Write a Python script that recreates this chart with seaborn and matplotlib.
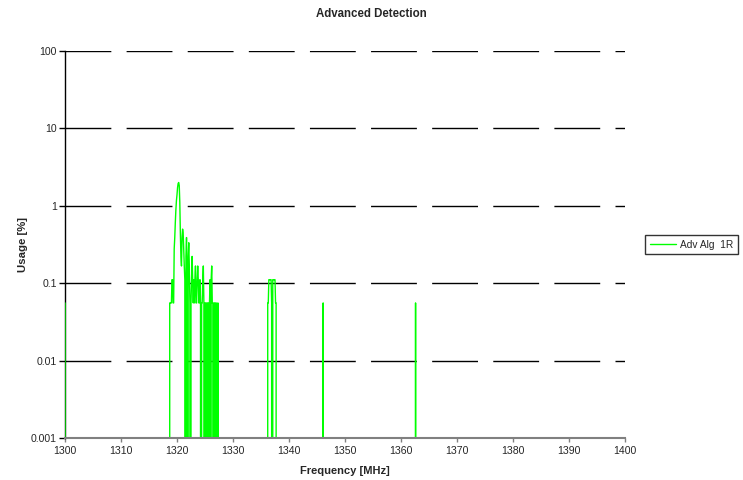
import numpy as np
import pandas as pd
import matplotlib
matplotlib.use("Agg")
import matplotlib.pyplot as plt
import seaborn as sns
from matplotlib.ticker import FixedLocator, FixedFormatter, NullLocator

# Usage per frequency bin (%), zero where nothing was detected
freq_mhz = [
    1300.0, 1300.1,
    1318.6, 1318.7, 1318.8, 1318.9, 1319.0, 1319.1, 1319.2, 1319.3, 1319.4,
    1319.5, 1319.6, 1319.7, 1319.8, 1319.9, 1320.0, 1320.1, 1320.2, 1320.3,
    1320.4, 1320.5, 1320.6, 1320.7, 1320.8, 1320.9, 1321.0, 1321.1, 1321.2,
    1321.3, 1321.4, 1321.5, 1321.6, 1321.7, 1321.8, 1321.9, 1322.0, 1322.1,
    1322.2, 1322.3, 1322.4, 1322.5, 1322.6, 1322.7, 1322.8, 1322.9, 1323.0,
    1323.1, 1323.2, 1323.3, 1323.4, 1323.5, 1323.6, 1323.7, 1323.8, 1323.9,
    1324.0, 1324.1, 1324.2, 1324.3, 1324.4, 1324.5, 1324.6, 1324.7, 1324.8,
    1324.9, 1325.0, 1325.1, 1325.2, 1325.3, 1325.4, 1325.5, 1325.6, 1325.7,
    1325.8, 1325.9, 1326.0, 1326.1, 1326.2, 1326.3, 1326.4, 1326.5, 1326.6,
    1326.7, 1326.8, 1326.9, 1327.0, 1327.1, 1327.2, 1327.3, 1327.4,
    1336.1, 1336.2, 1336.3, 1336.4, 1336.5, 1336.6, 1336.7, 1336.8, 1336.9,
    1337.0, 1337.1, 1337.2, 1337.3, 1337.4, 1337.5, 1337.6, 1337.7, 1337.8,
    1346.0, 1346.1, 1346.2,
    1362.5, 1362.6, 1362.7,
    1400.0,
]
usage_pct = [
    0.0556, 0,
    0, 0.0556, 0.0556, 0.0556, 0.0556, 0.111, 0.111, 0.0556, 0.0556,
    0.278, 0.389, 0.611, 0.889, 1.17, 1.39, 1.72, 1.94, 2.0,
    1.83, 1.11, 0.444, 0.222, 0.167, 0.389, 0.5, 0.444, 0.278,
    0.167, 0.111, 0, 0.222, 0.389, 0.111, 0, 0.222, 0.333,
    0.167, 0.0556, 0, 0.0556, 0.111, 0.222, 0.111, 0.0556, 0.111,
    0.0556, 0.111, 0.167, 0.0556, 0.0556, 0.111, 0.167, 0.111, 0.0556,
    0.0556, 0.111, 0.0556, 0, 0.0556, 0.0556, 0.111, 0.167, 0.0556,
    0, 0.0556, 0.0556, 0.0556, 0, 0.0556, 0.0556, 0.0556, 0,
    0.0556, 0.111, 0, 0.111, 0.167, 0.0556, 0.0556, 0, 0.0556,
    0.0556, 0.0556, 0, 0.0556, 0, 0, 0.0556, 0,
    0, 0.0556, 0.0556, 0.111, 0.111, 0.111, 0.111, 0.111, 0.0556,
    0, 0.111, 0.111, 0.111, 0.111, 0.111, 0.0556, 0.0556, 0,
    0, 0.0556, 0,
    0, 0.0556, 0,
    0,
]

series_name = "Adv Alg  1R"
x_ticks = list(range(1300, 1401, 10))
y_ticks = [0.001, 0.01, 0.1, 1, 10, 100]
y_tick_labels = ["0.001", "0.01", "0.1", "1", "10", "100"]

df = pd.DataFrame({"Frequency": freq_mhz, "Usage": usage_pct})

sns.set_style("white")
plt.rcParams["font.family"] = ["Liberation Sans", "DejaVu Sans"]

fig = plt.figure(figsize=(7.43, 4.80), dpi=100)
ax = fig.add_axes([65 / 743, 1 - 438 / 480, 560 / 743, 387 / 480])

sns.lineplot(data=df, x="Frequency", y="Usage", ax=ax, color="#00FF00",
             linewidth=1.0, estimator=None, sort=False, label=series_name,
             zorder=3)

ax.set_yscale("log", nonpositive="clip")
ax.set_xlim(1300, 1400)
ax.set_ylim(0.001, 100)

# decade gridlines in long dashes
for v in y_ticks[1:]:
    ax.axhline(v, color="black", linewidth=1.0, linestyle=(0, (33, 11)), zorder=1)

ax.xaxis.set_major_locator(FixedLocator(x_ticks))
ax.yaxis.set_major_locator(FixedLocator(y_ticks))
ax.yaxis.set_major_formatter(FixedFormatter(y_tick_labels))
ax.yaxis.set_minor_locator(NullLocator())
ax.xaxis.set_minor_locator(NullLocator())

ax.tick_params(axis="y", which="major", direction="out", length=4, width=1,
               color="black", labelsize=7.6, pad=2, left=True)
ax.tick_params(axis="x", which="major", direction="out", length=3, width=1,
               color="#808080", labelsize=7.6, pad=3, bottom=True)

for side in ("top", "right"):
    ax.spines[side].set_visible(False)
ax.spines["left"].set_color("black")
ax.spines["left"].set_linewidth(1.0)
ax.spines["left"].set_zorder(2.5)
ax.spines["bottom"].set_color("#808080")
ax.spines["bottom"].set_linewidth(1.5)
ax.spines["bottom"].set_zorder(5)

ax.set_xlabel("Frequency [MHz]", fontsize=8, fontweight="bold", labelpad=7)
ax.set_ylabel("Usage [%]", fontsize=8.2, fontweight="bold", labelpad=2)

fig.text(0.5, 1 - 14 / 480, "Advanced Detection", ha="center", va="center",
         fontsize=8.3, fontweight="bold")

leg = ax.legend(loc="center left", bbox_to_anchor=(645 / 743, 1 - 244.5 / 480),
                bbox_transform=fig.transFigure, frameon=True, fancybox=False,
                fontsize=7.3, handlelength=2.6, handletextpad=0.4,
                borderpad=0.45, borderaxespad=0)
leg.get_frame().set_edgecolor("black")
leg.get_frame().set_linewidth(1.0)

fig.savefig("out.png", dpi=100)
